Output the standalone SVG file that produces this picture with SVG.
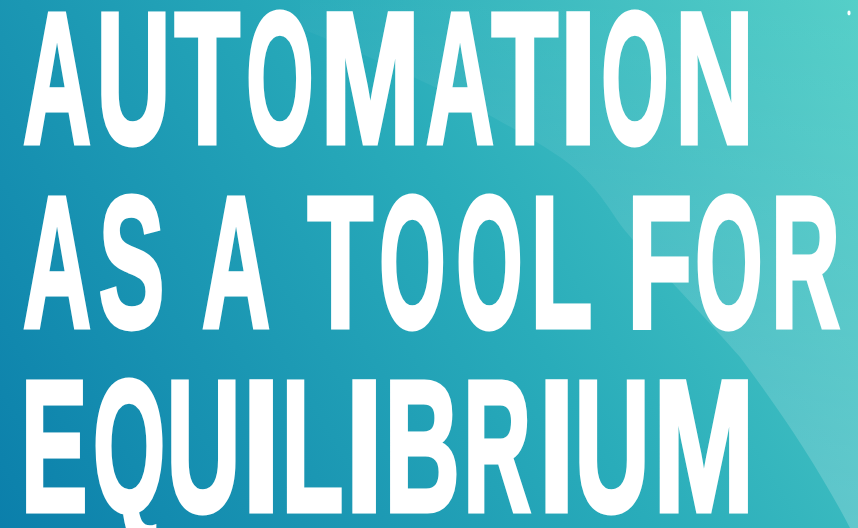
<svg xmlns="http://www.w3.org/2000/svg" width="858" height="528" viewBox="0 0 858 528">
<defs>
<linearGradient id="bg" x1="0" y1="528" x2="858" y2="0" gradientUnits="userSpaceOnUse">
<stop offset="0" stop-color="#0b7fab"/>
<stop offset="0.55" stop-color="#29acba"/>
<stop offset="1" stop-color="#52cec7"/>
</linearGradient>
<linearGradient id="hl" x1="0" y1="0" x2="0" y2="528" gradientUnits="userSpaceOnUse">
<stop offset="0" stop-color="#ffffff" stop-opacity="0.02"/>
<stop offset="1" stop-color="#ffffff" stop-opacity="0.2"/>
</linearGradient>
<style>
.t{font-family:"Liberation Sans",Arial,sans-serif;font-weight:bold;font-size:187px;fill:#fff;stroke:#fff;stroke-width:5;stroke-linejoin:miter}
</style>
</defs>
<rect width="858" height="528" fill="url(#bg)"/>
<path d="M300,28 C360,52 440,88 480,110 C520,132 555,152 573,167 C600,190 612,214 623,228 C640,250 690,300 740,357 C780,410 820,470 850,528 L858,528 L858,0 L300,0 Z" fill="url(#hl)"/>
<ellipse cx="849" cy="13" rx="1.6" ry="2.4" fill="#ffffff"/>
<g id="line1" class="t">
<text x="23" y="143" textLength="68" lengthAdjust="spacingAndGlyphs">A</text>
<text x="96.6" y="143" textLength="73.8" lengthAdjust="spacingAndGlyphs">U</text>
<text x="174.6" y="143" textLength="65.6" lengthAdjust="spacingAndGlyphs">T</text>
<text x="246.2" y="143" textLength="67.4" lengthAdjust="spacingAndGlyphs">O</text>
<text x="320.3" y="143" textLength="100" lengthAdjust="spacingAndGlyphs">M</text>
<text x="426" y="143" textLength="68" lengthAdjust="spacingAndGlyphs">A</text>
<text x="491.6" y="143" textLength="66.7" lengthAdjust="spacingAndGlyphs">T</text>
<text x="559" y="143" textLength="38.3" lengthAdjust="spacingAndGlyphs">I</text>
<text x="601.2" y="143" textLength="67.4" lengthAdjust="spacingAndGlyphs">O</text>
<text x="675.1" y="143" textLength="78.8" lengthAdjust="spacingAndGlyphs">N</text>
</g>
<g id="line2" class="t">
<text x="23" y="326.5" textLength="68" lengthAdjust="spacingAndGlyphs">A</text>
<text x="98.7" y="326.5" textLength="65.6" lengthAdjust="spacingAndGlyphs">S</text>
<text x="202" y="326.5" textLength="68" lengthAdjust="spacingAndGlyphs">A</text>
<text x="307.6" y="326.5" textLength="65.6" lengthAdjust="spacingAndGlyphs">T</text>
<text x="379.3" y="326.5" textLength="66.3" lengthAdjust="spacingAndGlyphs">O</text>
<text x="456.3" y="326.5" textLength="66.3" lengthAdjust="spacingAndGlyphs">O</text>
<text x="530.6" y="326.5" textLength="61.9" lengthAdjust="spacingAndGlyphs">L</text>
<text x="627.2" y="326.5" textLength="65" lengthAdjust="spacingAndGlyphs">F</text>
<text x="695.2" y="326.5" textLength="67.4" lengthAdjust="spacingAndGlyphs">O</text>
<text x="771.1" y="326.5" textLength="69" lengthAdjust="spacingAndGlyphs">R</text>
</g>
<g id="line3" class="t">
<text x="20.7" y="510.5" textLength="66.7" lengthAdjust="spacingAndGlyphs">E</text>
<text x="93" y="510.5" textLength="72.2" lengthAdjust="spacingAndGlyphs">Q</text>
<text x="166.6" y="510.5" textLength="73.8" lengthAdjust="spacingAndGlyphs">U</text>
<text x="242" y="510.5" textLength="38.3" lengthAdjust="spacingAndGlyphs">I</text>
<text x="281.6" y="510.5" textLength="61.9" lengthAdjust="spacingAndGlyphs">L</text>
<text x="345" y="510.5" textLength="38.3" lengthAdjust="spacingAndGlyphs">I</text>
<text x="384.5" y="510.5" textLength="75.3" lengthAdjust="spacingAndGlyphs">B</text>
<text x="463.2" y="510.5" textLength="67.8" lengthAdjust="spacingAndGlyphs">R</text>
<text x="538.6" y="510.5" textLength="36.2" lengthAdjust="spacingAndGlyphs">I</text>
<text x="574.5" y="510.5" textLength="75" lengthAdjust="spacingAndGlyphs">U</text>
<text x="653.2" y="510.5" textLength="101.2" lengthAdjust="spacingAndGlyphs">M</text>
</g>
</svg>
